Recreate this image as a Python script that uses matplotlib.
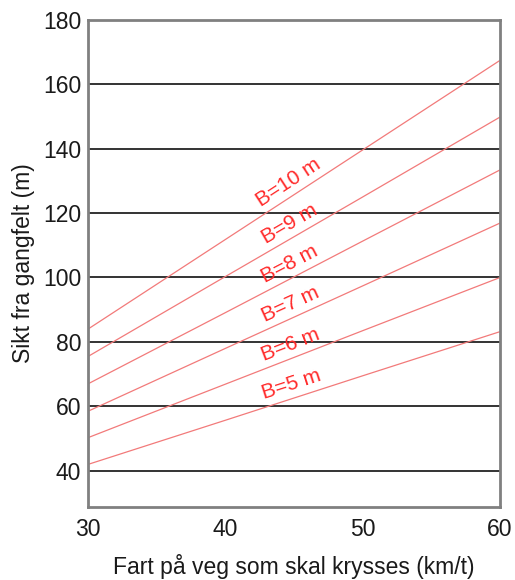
import matplotlib
matplotlib.use("Agg")
import matplotlib.pyplot as plt
import numpy as np

plt.rcParams['font.family'] = ['Liberation Sans', 'DejaVu Sans']

# fart (km/t) og sikt (m) for hver vegbredde B
fart = [30, 40, 50, 60]
sikt_b5 = [42.0, 55.7, 69.5, 83.2]
sikt_b6 = [50.3, 66.9, 83.5, 100.0]
sikt_b7 = [58.5, 78.0, 97.4, 116.9]
sikt_b8 = [67.0, 89.1, 111.3, 133.4]
sikt_b9 = [75.5, 100.3, 125.0, 149.8]
sikt_b10 = [84.0, 111.8, 139.6, 167.4]
labels = ["B=5 m", "B=6 m", "B=7 m", "B=8 m", "B=9 m", "B=10 m"]
series = [sikt_b5, sikt_b6, sikt_b7, sikt_b8, sikt_b9, sikt_b10]

xticks = [30, 40, 50, 60]
yticks = [40, 60, 80, 100, 120, 140, 160, 180]

fig = plt.figure(figsize=(5.15, 5.8), dpi=100)
ax = fig.add_axes([0.171, 0.126, 0.8, 0.84])

# horisontale rutelinjer
for yv in yticks:
    ax.axhline(yv, color="#333333", lw=1.4, zorder=1)

# linjer for hver bredde
label_x = 45.0
for vals, lab in zip(series, labels):
    ax.plot(fart, vals, color="#f27a7a", lw=0.9, zorder=2)
    slope = (vals[-1] - vals[0]) / (fart[-1] - fart[0])
    yl = np.interp(label_x, fart, vals)
    ang = np.degrees(np.arctan(slope))
    ax.text(label_x, yl + 1.3, lab, color="#ff2a2a", fontsize=15,
            rotation=ang, transform_rotates_text=True,
            rotation_mode="anchor", ha="center", va="bottom", zorder=3)

ax.set_xlim(30, 60)
ax.set_ylim(28.8, 180)
ax.set_xticks(xticks)
ax.set_yticks(yticks)
ax.tick_params(length=0, labelsize=16.5, colors="#1a1a1a")
ax.tick_params(axis="y", pad=5)
ax.tick_params(axis="x", pad=8)
for s in ax.spines.values():
    s.set_color("#808080")
    s.set_linewidth(2)

ax.set_xlabel("Fart på veg som skal krysses (km/t)", fontsize=16.5, labelpad=9,
              color="#1a1a1a")
ax.set_ylabel("Sikt fra gangfelt (m)", fontsize=16.5, labelpad=6, color="#1a1a1a")

fig.savefig("out.png", dpi=100)
